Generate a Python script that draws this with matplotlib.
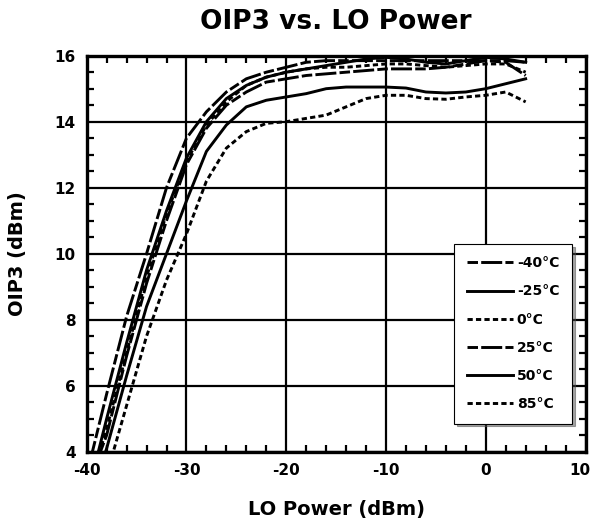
import matplotlib
matplotlib.use('Agg')
import matplotlib.pyplot as plt
from matplotlib.ticker import MultipleLocator, FuncFormatter

plt.rcParams['font.family'] = ['DejaVu Sans']
plt.rcParams['font.weight'] = 'bold'
plt.rcParams['axes.unicode_minus'] = False

# LO power sweep (dBm) and OIP3 (dBm) per temperature
lo_power = [-40, -38, -36, -34, -32, -30, -28, -26, -24, -22, -20, -18,
            -16, -14, -12, -10, -8, -6, -4, -2, 0, 2, 4]

oip3_m40 = [3.3, 5.75, 8.1, 10.0, 12.0, 13.5, 14.3, 14.9, 15.3, 15.5, 15.65, 15.8,
            15.85, 15.85, 15.85, 15.85, 15.85, 15.85, 15.85, 15.85, 15.85, 15.85, 15.8]
oip3_m25 = [2.6, 5.0, 7.3, 9.5, 11.3, 12.9, 14.0, 14.7, 15.1, 15.35, 15.5, 15.6,
            15.7, 15.8, 15.9, 15.95, 15.9, 15.8, 15.75, 15.85, 15.95, 15.9, 15.8]
oip3_0 = [2.7, 4.7, 7.0, 9.3, 11.2, 12.8, 13.9, 14.6, 15.1, 15.35, 15.5, 15.6,
          15.65, 15.65, 15.7, 15.75, 15.75, 15.7, 15.65, 15.7, 15.75, 15.75, 15.5]
oip3_25 = [2.9, 4.5, 6.9, 9.1, 11.0, 12.7, 13.8, 14.5, 14.9, 15.2, 15.3, 15.4,
           15.45, 15.5, 15.55, 15.6, 15.6, 15.6, 15.65, 15.75, 15.85, 15.8, 15.4]
oip3_50 = [2.3, 4.1, 6.3, 8.4, 10.0, 11.6, 13.1, 13.9, 14.45, 14.65, 14.75, 14.85,
           15.0, 15.05, 15.05, 15.05, 15.02, 14.9, 14.87, 14.9, 15.0, 15.15, 15.3]
oip3_85 = [1.5, 3.3, 5.4, 7.5, 9.2, 10.6, 12.2, 13.2, 13.7, 13.95, 14.0, 14.1,
           14.2, 14.45, 14.7, 14.8, 14.8, 14.7, 14.68, 14.75, 14.8, 14.9, 14.6]

temps = ['-40°C', '-25°C', '0°C', '25°C', '50°C', '85°C']
series = [oip3_m40, oip3_m25, oip3_0, oip3_25, oip3_50, oip3_85]

X_MIN, X_MAX = -40, 10

LONG_DASH = (0, (3.6, 1.1, 7.2, 1.1))
SOLID = '-'
DOTTED = (0, (1.8, 1.1))
styles = [LONG_DASH, SOLID, DOTTED, LONG_DASH, SOLID, DOTTED]

fig = plt.figure(figsize=(5.93, 5.21), dpi=100, facecolor='white')
ax = fig.add_axes([0.1462, 0.1330, 0.8412, 0.7601])

for vals, ls, name in zip(series, styles, temps):
    ax.plot(lo_power, vals, color='black', linestyle=ls, linewidth=2.1, label=name)

ax.set_xlim(X_MIN, X_MAX)
ax.set_ylim(4, 16)
ax.xaxis.set_major_locator(MultipleLocator(10))
ax.xaxis.set_minor_locator(MultipleLocator(2))
ax.yaxis.set_major_locator(MultipleLocator(2))
ax.yaxis.set_minor_locator(MultipleLocator(0.5))
# the right-most label is placed by hand so it stays on the canvas
ax.xaxis.set_major_formatter(FuncFormatter(lambda v, p: '' if v >= X_MAX else f'{v:.0f}'))
ax.grid(which='major', color='black', linewidth=1.6)
ax.set_axisbelow(True)

ax.tick_params(which='both', direction='in', top=True, right=True,
               labelsize=11, width=1.6, color='black', pad=8)
ax.tick_params(which='major', length=0)
ax.tick_params(which='minor', length=5)
for sp in ax.spines.values():
    sp.set_linewidth(2.4)

ax.annotate(f'{X_MAX}', xy=(X_MAX, 0), xycoords=('data', 'axes fraction'),
            xytext=(-4, -8), textcoords='offset points', ha='center', va='top',
            fontsize=11, fontweight='bold', annotation_clip=False)

ax.set_xlabel('LO Power (dBm)', fontsize=14, fontweight='bold', labelpad=16)
ax.set_ylabel('OIP3 (dBm)', fontsize=14, fontweight='bold', labelpad=20)
fig.text(0.567, 0.957, 'OIP3 vs. LO Power', ha='center', va='center',
         fontsize=19, fontweight='bold')

leg = ax.legend(loc='upper left', bbox_to_anchor=(0.737, 0.525), fontsize=10,
                handlelength=3.3, handletextpad=0.3, labelspacing=1.02,
                borderpad=0.9, borderaxespad=0, fancybox=False, shadow=True,
                framealpha=1, edgecolor='black')
leg.get_frame().set_linewidth(0.8)
for t in leg.get_texts():
    t.set_fontweight('bold')

fig.savefig('out.png', dpi=100, facecolor='white')
